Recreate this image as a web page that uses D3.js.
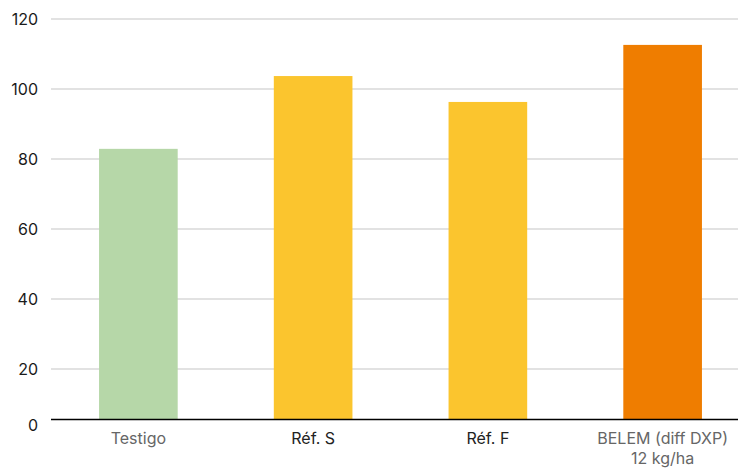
<!DOCTYPE html>
<html>
<head>
<meta charset="utf-8">
<script src="https://cdn.jsdelivr.net/npm/d3@7"></script>
<style>
  body { margin: 0; background: #fff; }
  text { font-family: Inter, "Liberation Sans", sans-serif; }
</style>
</head>
<body>
<script>
// data
var categories = ['Testigo', 'Réf. S', 'Réf. F', 'BELEM (diff DXP)\n12 kg/ha'];
var values = [82.9, 103.7, 96.3, 112.6];
var barColors = ['#b6d7a8', '#fbc52e', '#fbc52e', '#ef7d00'];
var labelColors = ['#666666', '#222222', '#222222', '#666666'];
var yTicks = [20, 40, 60, 80, 100, 120];

var w = 738, h = 468;
var plotLeft = 51, plotRight = 750, plotBottom = 419.5;

var svg = d3.select('body').append('svg')
            .attr('width', w)
            .attr('height', h);

var xScale = d3.scaleBand().domain(categories)
               .range([plotLeft, plotRight])
               .paddingInner(0.55).paddingOuter(0.275);
// the value axis runs below the drawn baseline in the original
var yScale = d3.scaleLinear().domain([0, 120]).range([439, 19]);

// gridlines
svg.append('g')
   .selectAll('line')
   .data(yTicks)
   .enter().append('line')
   .attr('x1', plotLeft).attr('x2', w)
   .attr('y1', function(d) { return yScale(d); })
   .attr('y2', function(d) { return yScale(d); })
   .attr('stroke', '#d9d9d9')
   .attr('stroke-width', 1.3);

// y axis labels
var yAxis = svg.append('g')
   .attr('transform', 'translate(' + (plotLeft - 13) + ',0)')
   .call(d3.axisLeft(yScale).tickValues(yTicks).tickSize(0).tickPadding(0));
yAxis.select('.domain').remove();
yAxis.selectAll('text')
     .style('font-size', '16px')
     .style('font-family', 'Inter, sans-serif')
     .attr('fill', '#1a1a1a');
svg.append('text')
   .attr('x', plotLeft - 13)
   .attr('y', plotBottom + 6)
   .attr('dy', '0.32em')
   .attr('text-anchor', 'end')
   .style('font-size', '16px')
   .attr('fill', '#1a1a1a')
   .text('0');

// bars
svg.selectAll('.bar')
   .data(values)
   .enter().append('rect')
   .attr('class', 'bar')
   .attr('x', function(d, i) { return xScale(categories[i]); })
   .attr('width', xScale.bandwidth())
   .attr('y', function(d) { return yScale(d); })
   .attr('height', function(d) { return plotBottom - yScale(d); })
   .attr('fill', function(d, i) { return barColors[i]; });

// baseline
svg.append('line')
   .attr('x1', plotLeft).attr('x2', w)
   .attr('y1', plotBottom).attr('y2', plotBottom)
   .attr('stroke', '#000')
   .attr('stroke-width', 1.3);

// category labels
var catLabels = svg.selectAll('.cat')
   .data(categories)
   .enter().append('text')
   .attr('class', 'cat')
   .attr('text-anchor', 'middle')
   .attr('x', function(d) { return xScale(d) + xScale.bandwidth() / 2; })
   .attr('y', 438)
   .style('font-size', '16px')
   .attr('fill', function(d, i) { return labelColors[i]; });
catLabels.each(function(d) {
  var lines = d.split('\n');
  var t = d3.select(this);
  lines.forEach(function(l, k) {
    t.append('tspan')
     .attr('x', t.attr('x'))
     .attr('dy', k == 0 ? '0.35em' : '1.3em')
     .text(l);
  });
});
</script>
</body>
</html>
